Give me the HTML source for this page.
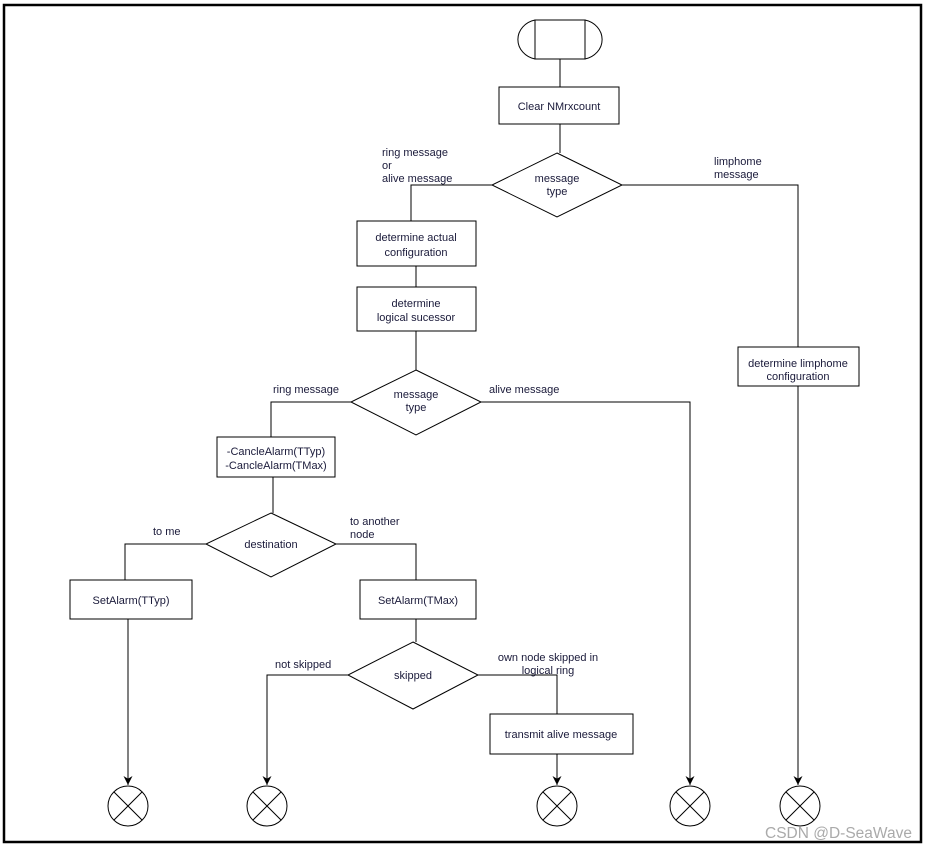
<!DOCTYPE html>
<html><head><style>html,body{margin:0;padding:0;background:#fff}svg{display:block}text{font-family:"Liberation Sans",sans-serif;font-size:11px;fill:#1a1a3a}</style></head><body>
<svg width="925" height="849" viewBox="0 0 925 849" xmlns="http://www.w3.org/2000/svg">
<defs><marker id="a" viewBox="0 0 10 10" refX="10" refY="5" markerWidth="9" markerHeight="9" orient="auto"><path d="M0,0 L10,5 L0,10 L3,5 Z" fill="#000"/></marker></defs>
<rect x="4" y="5" width="917" height="837" fill="none" stroke="#000" stroke-width="2.5"/>
<g fill="none" stroke="#000" stroke-width="1">
<path d="M535,20 A22,20 0 0 0 535,59 M585,20 A22,20 0 0 1 585,59"/>
<rect x="535" y="20" width="50" height="39"/>
<path d="M560,59 V87 M560,124 V153"/>
<rect x="499" y="87" width="120" height="37" fill="#fff"/>
<polygon points="557,153 622,185 557,217 492,185" fill="#fff"/>
<path d="M492,185 H411 V221 M416,266 V287 M416,331 V370"/>
<rect x="357" y="221" width="119" height="45"/>
<rect x="357" y="287" width="119" height="44"/>
<path d="M622,185 H798 V347"/>
<rect x="738" y="347" width="121" height="39"/>
<path d="M798,386 V785" marker-end="url(#a)"/>
<polygon points="416,370 481,402 416,435 351,402"/>
<path d="M351,402 H271 V437 M481,402 H690 V785" />
<path d="M690,700 V785" marker-end="url(#a)"/>
<rect x="217" y="437" width="118" height="40"/>
<path d="M273,477 V513"/>
<polygon points="271,513 336,544 271,577 206,544"/>
<path d="M206,544 H125 V580 M336,544 H416 V580"/>
<rect x="70" y="580" width="122" height="39"/>
<path d="M128,619 V785" marker-end="url(#a)"/>
<rect x="360" y="580" width="116" height="39"/>
<path d="M416,619 V642"/>
<polygon points="413,642 478,675 413,709 348,675"/>
<path d="M348,675 H267 V785" marker-end="url(#a)"/>
<path d="M478,675 H557 V714"/>
<rect x="490" y="714" width="143" height="40"/>
<path d="M557,754 V785" marker-end="url(#a)"/>
<g>
<circle cx="128" cy="806" r="20"/><path d="M114,792 L142,820 M142,792 L114,820"/>
<circle cx="267" cy="806" r="20"/><path d="M253,792 L281,820 M281,792 L253,820"/>
<circle cx="557" cy="806" r="20"/><path d="M543,792 L571,820 M571,792 L543,820"/>
<circle cx="690" cy="806" r="20"/><path d="M676,792 L704,820 M704,792 L676,820"/>
<circle cx="800" cy="806" r="20"/><path d="M786,792 L814,820 M814,792 L786,820"/>
</g>
</g>
<g text-anchor="middle">
<text x="559" y="110">Clear NMrxcount</text>
<text x="557" y="182">message</text><text x="557" y="195">type</text>
<text x="416" y="241">determine actual</text><text x="416" y="256">configuration</text>
<text x="416" y="307">determine</text><text x="416" y="321">logical sucessor</text>
<text x="798" y="367">determine limphome</text><text x="798" y="380">configuration</text>
<text x="416" y="398">message</text><text x="416" y="411">type</text>
<text x="276" y="455">-CancleAlarm(TTyp)</text><text x="276" y="469">-CancleAlarm(TMax)</text>
<text x="271" y="548">destination</text>
<text x="131" y="604">SetAlarm(TTyp)</text>
<text x="418" y="604">SetAlarm(TMax)</text>
<text x="413" y="679">skipped</text>
<text x="561" y="738">transmit alive message</text>
<text x="548" y="661">own node skipped in</text><text x="548" y="674">logical ring</text>
</g>
<text x="382" y="156">ring message</text><text x="382" y="169">or</text><text x="382" y="182">alive message</text>
<text x="714" y="165">limphome</text><text x="714" y="178">message</text>
<text x="273" y="393">ring message</text>
<text x="489" y="393">alive message</text>
<text x="153" y="535">to me</text>
<text x="350" y="525">to another</text><text x="350" y="538">node</text>
<text x="275" y="668">not skipped</text>
<text x="765" y="838" style="font-size:15.5px;fill:#aaa">CSDN @D-SeaWave</text>
</svg>
</body></html>
